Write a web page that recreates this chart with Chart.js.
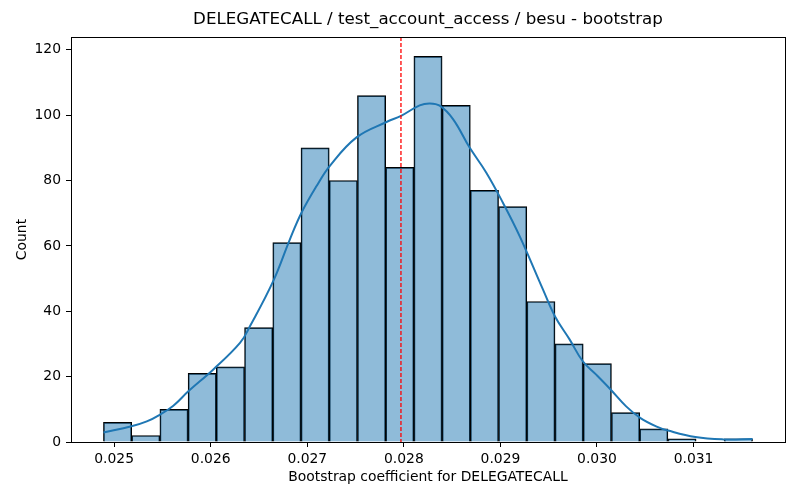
<!DOCTYPE html>
<html>
<head>
<meta charset="utf-8">
<script src="https://cdn.jsdelivr.net/npm/chart.js@4.4.1/dist/chart.umd.min.js"></script>
<style>
  html, body { margin: 0; padding: 0; background: #fff; }
</style>
</head>
<body>
<canvas id="myChart" width="800" height="500"></canvas>
<script>
// histogram bins (left edge of first bin + bin width) and counts
const binStart = 0.024889;
const binWidth = 0.00029226;
const counts = [6, 2, 10, 21, 23, 35, 61, 90, 80, 106, 84, 118, 103, 77, 72, 43, 30, 24, 9, 4, 1, 0, 1];

// kde curve
const kdeX = [0.024889, 0.025179, 0.025338, 0.025476, 0.025613, 0.025768, 0.026027, 0.026303, 0.026406,
  0.026647, 0.026820, 0.026941, 0.027096, 0.027234, 0.027510, 0.027820, 0.027971, 0.028164, 0.028268,
  0.028371, 0.028509, 0.028681, 0.028854, 0.029026, 0.029199, 0.029440, 0.029564, 0.029716, 0.029853,
  0.029992, 0.030143, 0.030302, 0.030447, 0.030612, 0.030736, 0.031019, 0.031309, 0.031611];
const kdeY = [2.9, 4.8, 6.3, 8.4, 11.1, 15.5, 22.2, 30.3, 35.4,
  49.2, 62.0, 70.2, 78.3, 84.5, 93.2, 97.9, 99.8, 103.0, 103.6,
  102.9, 98.8, 90.1, 82.4, 73.2, 63.0, 46.7, 38.5, 31.4, 24.7,
  20.6, 16.0, 10.9, 7.4, 4.8, 3.5, 1.5, 0.8, 0.9];

const meanValue = 0.02797;
const xTicks = [0.025, 0.026, 0.027, 0.028, 0.029, 0.030, 0.031];
const yTicks = [0, 20, 40, 60, 80, 100, 120];
const xMin = 0.024553;
const xMax = 0.031947;
const yMax = 123.9;

const binCenters = counts.map((c, i) => binStart + binWidth * (i + 0.5));

Chart.defaults.font.family = "'DejaVu Sans', sans-serif";
Chart.defaults.color = "#000";

const frameAndMean = {
  id: "frameAndMean",
  afterDatasetsDraw(chart) {
    const { ctx, chartArea, scales } = chart;
    const px = scales.x.getPixelForValue(meanValue);
    ctx.save();
    ctx.strokeStyle = "#ff0000";
    ctx.lineWidth = 1.3;
    ctx.setLineDash([4, 2]);
    ctx.beginPath();
    ctx.moveTo(px, chartArea.top);
    ctx.lineTo(px, chartArea.bottom);
    ctx.stroke();
    ctx.setLineDash([]);
    ctx.strokeStyle = "#000";
    ctx.lineWidth = 1;
    const l = Math.round(chartArea.left) + 0.5;
    const t = Math.round(chartArea.top) + 0.5;
    const r = Math.round(chartArea.right) + 0.5;
    const b = Math.round(chartArea.bottom) + 0.5;
    ctx.strokeRect(l, t, r - l, b - t);
    ctx.restore();
  },
};

new Chart(document.getElementById("myChart"), {
  type: "bar",
  data: {
    datasets: [
      {
        type: "line",
        data: kdeX.map((x, i) => ({ x: x, y: kdeY[i] })),
        borderColor: "#1f77b4",
        borderWidth: 2,
        pointRadius: 0,
        tension: 0.4,
        fill: false,
        order: 0,
      },
      {
        type: "bar",
        data: binCenters.map((x, i) => ({ x: x, y: counts[i] })),
        backgroundColor: "rgba(31,119,180,0.5)",
        borderColor: "#000",
        borderWidth: 1,
        barPercentage: 1,
        categoryPercentage: 1,
        order: 1,
      },
    ],
  },
  options: {
    responsive: false,
    animation: false,
    layout: { padding: { left: 0, right: 15, top: 0, bottom: 0 } },
    plugins: {
      legend: { display: false },
      tooltip: { enabled: false },
      title: {
        display: true,
        fullSize: false,
        text: "DELEGATECALL / test_account_access / besu - bootstrap",
        font: { size: 16.7, weight: "normal" },
        color: "#000",
        padding: { top: 10, bottom: 7 },
      },
    },
    scales: {
      x: {
        type: "linear",
        min: xMin,
        max: xMax,
        offset: false,
        afterBuildTicks: (scale) => {
          scale.ticks = xTicks.map((v) => ({ value: v }));
        },
        afterFit: (scale) => {
          scale.height = 58;
        },
        ticks: {
          font: { size: 13.9 },
          padding: 4,
          maxRotation: 0,
          callback: (v) => v.toFixed(3),
        },
        grid: {
          offset: false,
          drawOnChartArea: false,
          drawTicks: true,
          tickLength: 5,
          tickColor: "#000",
        },
        border: { display: false },
        title: {
          display: true,
          text: "Bootstrap coefficient for DELEGATECALL",
          font: { size: 13.9 },
          padding: { top: 0, bottom: 14 },
        },
      },
      y: {
        type: "linear",
        min: 0,
        max: yMax,
        afterBuildTicks: (scale) => {
          scale.ticks = yTicks.map((v) => ({ value: v }));
        },
        afterFit: (scale) => {
          scale.width = 71;
        },
        ticks: {
          font: { size: 13.9 },
          padding: 5,
        },
        grid: {
          drawOnChartArea: false,
          drawTicks: true,
          tickLength: 5,
          tickColor: "#000",
        },
        border: { display: false },
        title: {
          display: true,
          text: "Count",
          font: { size: 13.9 },
          padding: { top: 14, bottom: 0 },
        },
      },
    },
  },
  plugins: [frameAndMean],
});
</script>
</body>
</html>
